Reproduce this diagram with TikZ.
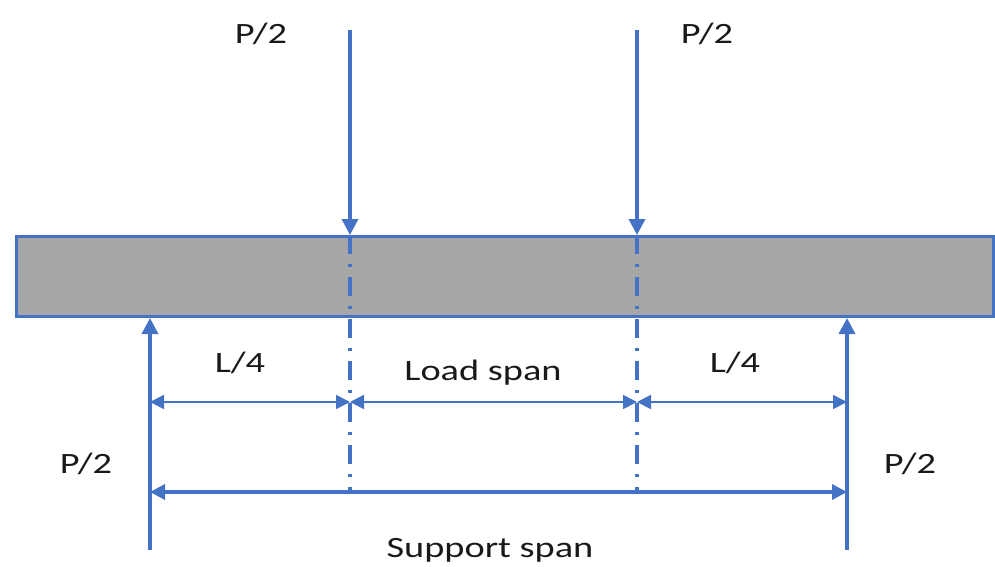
\documentclass[tikz,border=0pt]{standalone}
\usepackage{fontspec}
\setmainfont{Carlito}[FakeStretch=1.3]
\usetikzlibrary{arrows.meta}
\definecolor{bl}{HTML}{4472C4}
\definecolor{beamgray}{HTML}{A6A6A6}
\tikzset{
  lbl/.style={font=\fontsize{29.5}{33}\selectfont, text=black!90, anchor=base, inner sep=0pt},
  force/.style={draw=bl, line width=3.5pt, -{Triangle[length=16pt,width=16pt]}},
  dimthin/.style={draw=bl, line width=1.8pt, {Triangle[length=14pt,width=14pt]}-{Triangle[length=14pt,width=14pt]}},
  dimthick/.style={draw=bl, line width=3.5pt, {Triangle[length=15pt,width=15pt]}-{Triangle[length=15pt,width=15pt]}},
  axisline/.style={draw=bl, line width=3.5pt, dash pattern=on 19pt off 10pt on 3pt off 10pt},
}
\begin{document}
\begin{tikzpicture}[x=1pt,y=-1pt]
\useasboundingbox (0,0) rectangle (995,567);
% beam
\node[draw=bl, fill=beamgray, line width=2.5pt, minimum width=977pt, minimum height=80pt, inner sep=0pt, anchor=north west] (beam) at (15,235) {};
% coordinates
\coordinate (l1top) at (350,30);
\coordinate (l1) at (350,235);
\coordinate (l2top) at (637,30);
\coordinate (l2) at (637,235);
\coordinate (r1bot) at (150,550);
\coordinate (r1) at (150,318);
\coordinate (r2bot) at (847,550);
\coordinate (r2) at (847,318);
\coordinate (a1end) at (350,490);
\coordinate (a2end) at (637,490);
\coordinate (d0) at (150,402);
\coordinate (d1) at (350,402);
\coordinate (d2) at (637,402);
\coordinate (d3) at (847,402);
\coordinate (s0) at (150,492);
\coordinate (s1) at (847,492);
% axis lines
\draw[axisline] (l1) -- (a1end);
\draw[axisline] (l2) -- (a2end);
% forces
\draw[force] (l1top) -- (l1);
\draw[force] (l2top) -- (l2);
\draw[force] (r1bot) -- (r1);
\draw[force] (r2bot) -- (r2);
% dimensions
\draw[dimthin] (d0) -- (d1);
\draw[dimthin] (d1) -- (d2);
\draw[dimthin] (d2) -- (d3);
\draw[dimthick] (s0) -- (s1);
% labels
\node[lbl] (p1) at (261,44) {P/2};
\node[lbl] (p2) at (707,44) {P/2};
\node[lbl] (q1) at (240,372) {L/4};
\node[lbl] (ls) at (483,380) {Load span};
\node[lbl] (q2) at (735,372) {L/4};
\node[lbl] (p3) at (86,473) {P/2};
\node[lbl] (p4) at (910,473) {P/2};
\node[lbl] (ss) at (490,557) {Support span};
\end{tikzpicture}
\end{document}
